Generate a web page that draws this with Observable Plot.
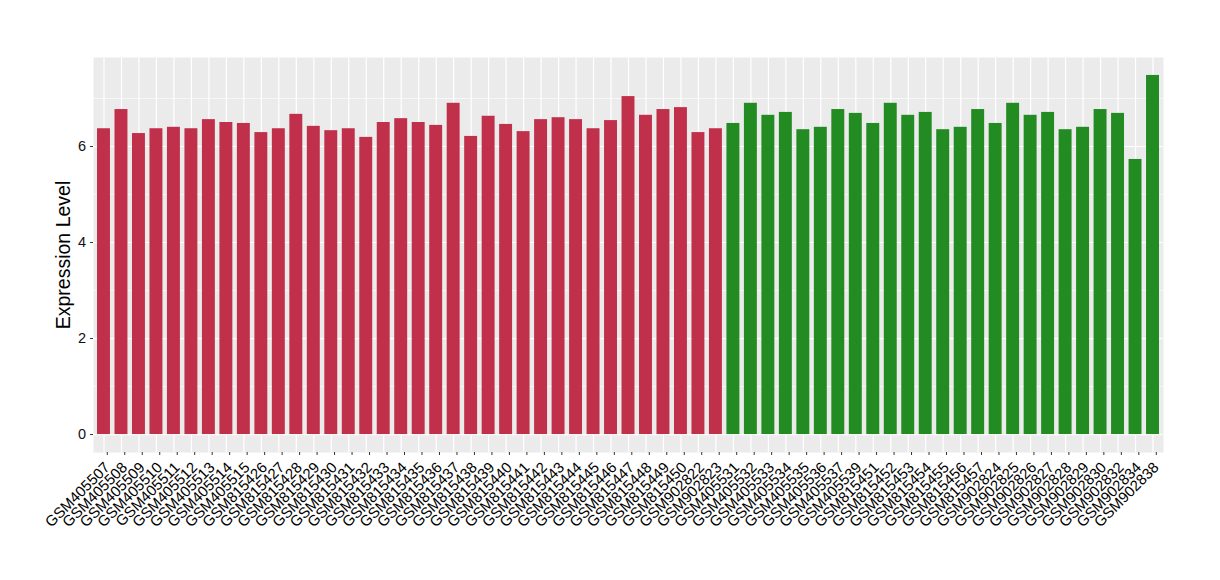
<!DOCTYPE html>
<html>
<head>
<meta charset="utf-8">
<script src="https://cdn.jsdelivr.net/npm/d3@7"></script>
<script src="https://cdn.jsdelivr.net/npm/@observablehq/plot@0.6"></script>
<style>
  html, body { margin: 0; padding: 0; background: #fff; }
  #chart { width: 1220px; height: 580px; }
</style>
</head>
<body>
<div id="chart"></div>
<script>
const redSamples = ["GSM405507","GSM405508","GSM405509","GSM405510","GSM405511","GSM405512","GSM405513","GSM405514","GSM405515","GSM815426","GSM815427","GSM815428","GSM815429","GSM815430","GSM815431","GSM815432","GSM815433","GSM815434","GSM815435","GSM815436","GSM815437","GSM815438","GSM815439","GSM815440","GSM815441","GSM815442","GSM815443","GSM815444","GSM815445","GSM815446","GSM815447","GSM815448","GSM815449","GSM815450","GSM902822","GSM902823"];
const redValues = [6.37,6.77,6.27,6.37,6.40,6.37,6.56,6.50,6.48,6.29,6.37,6.67,6.42,6.33,6.37,6.19,6.50,6.58,6.50,6.44,6.90,6.21,6.63,6.46,6.31,6.56,6.60,6.56,6.37,6.54,7.04,6.65,6.77,6.81,6.29,6.37];
const greenSamples = ["GSM405531","GSM405532","GSM405533","GSM405534","GSM405535","GSM405536","GSM405537","GSM405539","GSM815451","GSM815452","GSM815453","GSM815454","GSM815455","GSM815456","GSM815457","GSM902824","GSM902825","GSM902826","GSM902827","GSM902828","GSM902829","GSM902830","GSM902832","GSM902834","GSM902838"];
const greenValues = [6.48,6.90,6.65,6.71,6.35,6.40,6.77,6.69,6.48,6.90,6.65,6.71,6.35,6.40,6.77,6.48,6.90,6.65,6.71,6.35,6.40,6.77,6.69,5.73,7.48];
const groupNames = ["group1","group2"];
const groupColors = ["#C1304A","#228B22"];
const majorTicks = [0,2,4,6];
const minorTicks = [1,3,5,7];
const yLabel = "Expression Level";

const samples = redSamples.concat(greenSamples);
const rows = [
  ...redSamples.map((s,i) => ({sample: s, value: redValues[i], group: groupNames[0]})),
  ...greenSamples.map((s,i) => ({sample: s, value: greenValues[i], group: groupNames[1]}))
];
const yMax = d3.max(rows, d => d.value);
const pad = yMax * 0.05;

const chart = Plot.plot({
  width: 1220,
  height: 580,
  marginLeft: 93,
  marginRight: 57,
  marginTop: 57,
  marginBottom: 128,
  style: {fontFamily: "'Liberation Sans', Arial, Helvetica, sans-serif", background: "#fff"},
  x: {type: "band", domain: samples, paddingInner: 0.26, paddingOuter: 0.23, round: false, label: null},
  y: {domain: [-pad, yMax + pad], label: null},
  color: {domain: groupNames, range: groupColors},
  marks: [
    Plot.frame({fill: "#EBEBEB", stroke: null}),
    Plot.ruleY(minorTicks, {stroke: "#fff", strokeWidth: 0.6}),
    Plot.ruleY(majorTicks, {stroke: "#fff", strokeWidth: 1.2}),
    Plot.gridX(samples, {stroke: "#fff", strokeOpacity: 1, strokeWidth: 1.2}),
    Plot.barY(rows, {x: "sample", y: "value", fill: "group"}),
    Plot.axisX({
      tickRotate: -45, fontSize: 15, tickSize: 3, tickPadding: 9.5, dx: 3.3,
      stroke: "#333", fill: "#000", label: null
    }),
    Plot.axisY(majorTicks, {
      fontSize: 14.5, tickSize: 3, tickPadding: 4.5,
      stroke: "#333", fill: "#111",
      label: null
    }),
    Plot.axisY({
      ticks: [], tickSize: 0, label: yLabel, labelAnchor: "center", labelArrow: false,
      labelOffset: 37, fontSize: 19.5, fill: "#000"
    })
  ]
});
document.getElementById("chart").appendChild(chart);
</script>
</body>
</html>
